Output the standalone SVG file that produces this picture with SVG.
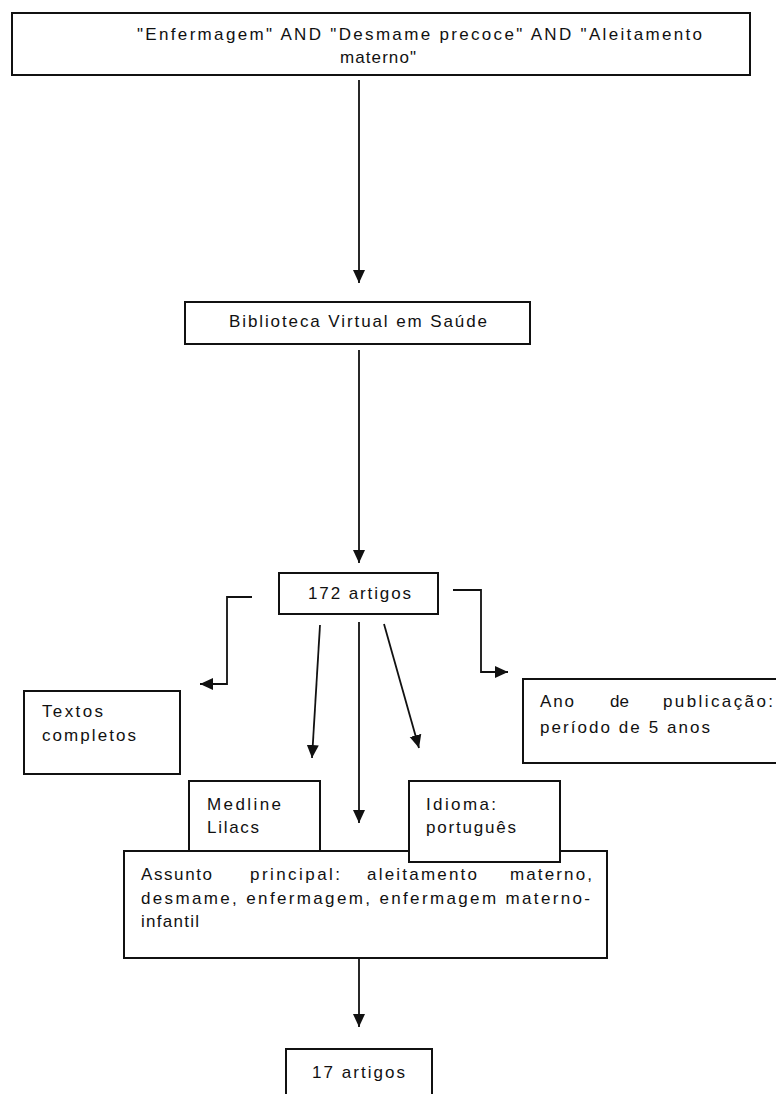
<svg xmlns="http://www.w3.org/2000/svg" width="776" height="1094" viewBox="0 0 776 1094">
<style>
.box{fill:#fff;stroke:#111;stroke-width:2}
.t{font-family:"Liberation Sans",Arial,sans-serif;font-size:17px;fill:#111}
.c{fill:none;stroke:#111;stroke-width:1.8}
</style>
<defs>
<marker id="ah" markerUnits="userSpaceOnUse" markerWidth="14" markerHeight="14" viewBox="0 0 14 12" refX="13" refY="6" orient="auto">
<path d="M0,0 L13,6 L0,12 Z" fill="#111"/>
</marker>
</defs>
<rect width="776" height="1094" fill="#fff"/>
<g id="connectors">
<line class="c" x1="359" y1="80" x2="359" y2="283" marker-end="url(#ah)"/>
<line class="c" x1="359" y1="350" x2="359" y2="563" marker-end="url(#ah)"/>
<polyline class="c" points="252,597 227,597 227,684 200,684" marker-end="url(#ah)"/>
<polyline class="c" points="453,590 481,590 481,672 508,672" marker-end="url(#ah)"/>
<line class="c" x1="320" y1="625" x2="312" y2="758" marker-end="url(#ah)"/>
<line class="c" x1="359" y1="622" x2="359" y2="823" marker-end="url(#ah)"/>
<line class="c" x1="384" y1="624" x2="419" y2="748" marker-end="url(#ah)"/>
<line class="c" x1="359" y1="943" x2="359" y2="1027" marker-end="url(#ah)"/>
</g>
<g id="n-busca">
<rect class="box" x="12" y="13" width="738" height="62"/>
<text class="t" x="137" y="40" textLength="565" lengthAdjust="spacing">"Enfermagem" AND "Desmame precoce" AND "Aleitamento</text>
<text class="t" x="340" y="63" textLength="76" lengthAdjust="spacing">materno"</text>
</g>
<g id="n-bvs">
<rect class="box" x="185" y="302" width="345" height="42"/>
<text class="t" x="229" y="327" textLength="258" lengthAdjust="spacing">Biblioteca Virtual em Saúde</text>
</g>
<g id="n-172">
<rect class="box" x="279" y="573" width="159" height="41"/>
<text class="t" x="308" y="599" textLength="103" lengthAdjust="spacing">172 artigos</text>
</g>
<g id="n-textos">
<rect class="box" x="24" y="691" width="156" height="83"/>
<text class="t" x="42" y="717" textLength="61" lengthAdjust="spacing">Textos</text>
<text class="t" x="42" y="741" textLength="94" lengthAdjust="spacing">completos</text>
</g>
<g id="n-ano">
<rect class="box" x="523" y="679" width="260" height="84"/>
<text class="t" x="540" y="707" textLength="34" lengthAdjust="spacing">Ano</text>
<text class="t" x="610" y="707">de</text>
<text class="t" x="663" y="707" textLength="110" lengthAdjust="spacing">publicação:</text>
<text class="t" x="540" y="733" textLength="170" lengthAdjust="spacing">período de 5 anos</text>
</g>
<g id="n-assunto">
<rect class="box" x="124" y="851" width="483" height="107"/>
<text class="t" x="141" y="880" textLength="71" lengthAdjust="spacing">Assunto</text>
<text class="t" x="250" y="880" textLength="90" lengthAdjust="spacing">principal:</text>
<text class="t" x="367" y="880" textLength="110" lengthAdjust="spacing">aleitamento</text>
<text class="t" x="510" y="880" textLength="82" lengthAdjust="spacing">materno,</text>
<text class="t" x="141" y="904" textLength="449" lengthAdjust="spacing">desmame, enfermagem, enfermagem materno-</text>
<text class="t" x="141" y="927" textLength="58" lengthAdjust="spacing">infantil</text>
</g>
<g id="n-medline">
<rect class="box" x="189" y="781" width="131" height="70"/>
<text class="t" x="207" y="810" textLength="74" lengthAdjust="spacing">Medline</text>
<text class="t" x="207" y="833" textLength="52" lengthAdjust="spacing">Lilacs</text>
</g>
<g id="n-idioma">
<rect class="box" x="409" y="781" width="151" height="81"/>
<text class="t" x="426" y="810" textLength="70" lengthAdjust="spacing">Idioma:</text>
<text class="t" x="426" y="833" textLength="90" lengthAdjust="spacing">português</text>
</g>
<g id="n-17">
<rect class="box" x="286" y="1049" width="146" height="60"/>
<text class="t" x="312" y="1078" textLength="93" lengthAdjust="spacing">17 artigos</text>
</g>
</svg>
